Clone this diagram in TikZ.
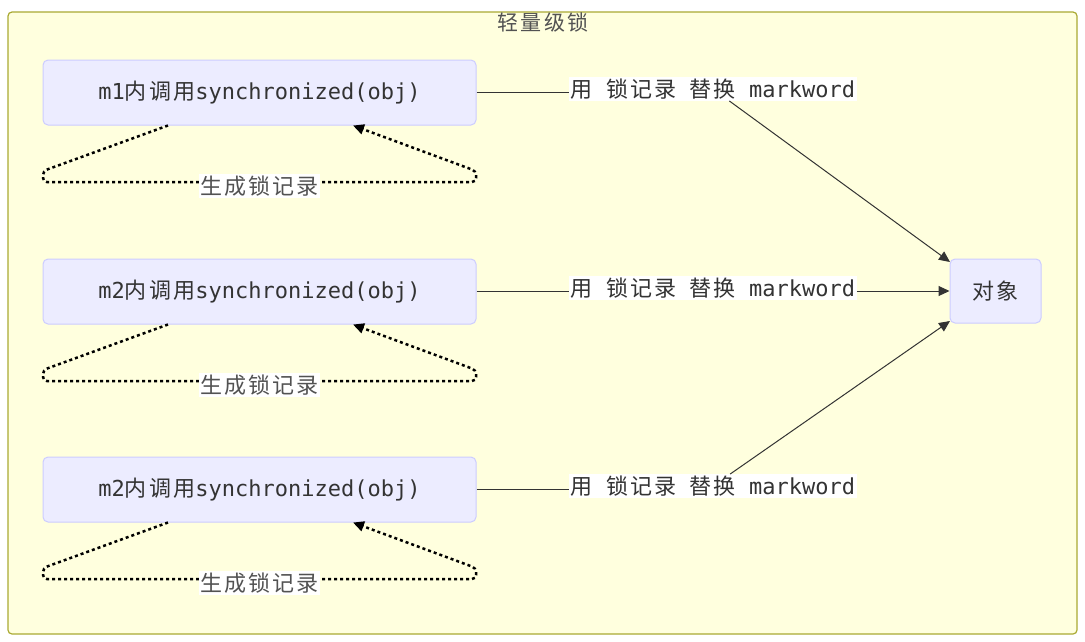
\documentclass[tikz,border=0pt]{standalone}
\usepackage{fontspec}
\setmonofont{DejaVu Sans Mono}
\newfontfamily\cjk[LetterSpace=10]{Noto Sans CJK SC}
\usetikzlibrary{arrows.meta}
\definecolor{frameFill}{HTML}{FFFFDE}
\definecolor{frameDraw}{HTML}{AAAA33}
\definecolor{boxFill}{HTML}{ECECFF}
\definecolor{boxDraw}{HTML}{CCCCFF}
\definecolor{txt}{HTML}{333333}
\tikzset{
  box/.style={draw=boxDraw, fill=boxFill, rounded corners=5pt, line width=1pt,
    minimum width=433pt, minimum height=65pt, inner sep=0pt, text=txt,
    font=\ttfamily\fontsize{22}{26}\selectfont},
  objbox/.style={draw=boxDraw, fill=boxFill, rounded corners=5pt, line width=1pt,
    minimum width=91pt, minimum height=64pt, inner sep=0pt, text=txt,
    font=\cjk\fontsize{22}{26}\selectfont},
  elabel/.style={fill=white, inner sep=1.5pt, text=txt,
    font=\ttfamily\fontsize{22}{26}\selectfont},
  slabel/.style={fill=white, inner sep=1.5pt, text=txt!85,
    font=\cjk\fontsize{22}{26}\selectfont},
  conn/.style={draw=txt, line width=1pt},
  loopline/.style={draw=black, line width=2.5pt, dash pattern=on 3pt off 3pt, rounded corners=4pt},
  tip/.style={-{Triangle[length=11pt,width=10pt]}},
}
\begin{document}
\begin{tikzpicture}[x=1pt,y=-1pt]
\useasboundingbox (0,0) rectangle (1085,641);
\fill[white] (0,0) rectangle (1085,641);
\draw[draw=frameDraw, fill=frameFill, line width=1.2pt, rounded corners=4pt] (8,12) rectangle (1077,634);
\node[text=txt!85, font=\cjk\fontsize{21}{25}\selectfont] (title) at (543,22) {轻量级锁};
\node[objbox] (obj) at (995.5,291) {对象};
\coordinate (objtop) at (950,262);
\coordinate (objbot) at (950,321);
\foreach \n/\t/\dy in {1/m1/0, 2/m2/199, 3/m2/397} {
  \node[box] (b\n) at (259.5,{92.5+\dy}) {\t{\cjk 内调用}synchronized(obj)};
  \node[elabel] (l\n) at (713,{89+\dy}) {{\cjk 用} {\cjk 锁记录} {\cjk 替换} markword};
  \draw[loopline, tip] ([xshift=-91.5pt]b\n.south) -- (43,{171+\dy}) -- (43,{182+\dy})
    -- (476,{182+\dy}) -- (476,{171+\dy}) -- ([xshift=93.5pt]b\n.south);
  \node[slabel] (s\n) at (259.5,{186+\dy}) {生成锁记录};
}
\draw[conn] (b1.east) -- (b1.east -| l1.west);
\draw[conn] (b2.east) -- (b2.east -| l2.west);
\draw[conn] (b3.east) -- (b3.east -| l3.west);
\draw[conn, tip] (l1) -- (objtop);
\draw[conn, tip] (obj.west -| l2.east) -- (obj.west);
\draw[conn, tip] (l3) -- (objbot);
\end{tikzpicture}
\end{document}
